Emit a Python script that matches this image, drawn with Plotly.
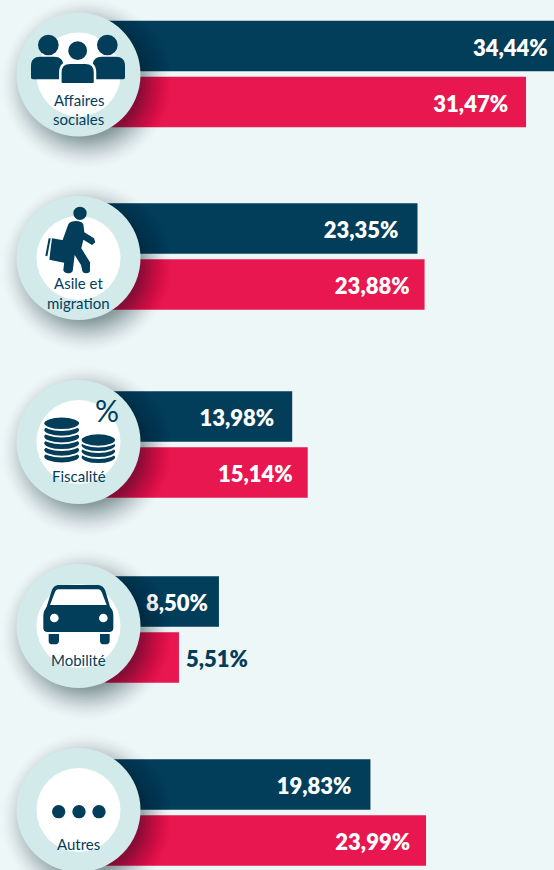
import re
import plotly.graph_objects as go

# ---------- data ----------
themes = ["Affaires sociales", "Asile et migration", "Fiscalité", "Mobilité", "Autres"]
series_navy = [34.44, 23.35, 13.98, 8.50, 19.83]
series_red = [31.47, 23.88, 15.14, 5.51, 23.99]
labels_navy = ["34,44%", "23,35%", "13,98%", "8,50%", "19,83%"]
labels_red = ["31,47%", "23,88%", "15,14%", "5,51%", "23,99%"]
outside_threshold = 6

# ---------- layout constants ----------
W, H = 554, 870
NAVY, RED, BG, RING = "#023e5a", "#e8174f", "#eef7f8", "#d3eaea"
FONT = "Lato"
rows_navy = [46, 228.5, 416.5, 601.5, 784.5]
rows_red = [102, 284.5, 472.5, 657.5, 840.5]
insets_navy = [18, 19, 18, 11, 19]
insets_red = [18, 15, 15, -7, 16]
LABEL_DY = 4
circle_y = [74.5, 258, 442, 626, 810]
CX, R, R_IN = 78.5, 62, 42
PX_PER_UNIT = 13.37
ZERO_PX = 105.3


def pt(x, y):
    return x / W, 1 - y / H


def zpath(d, oy):
    """Path given in 3x zoom coordinates with crop origin oy -> paper coords."""
    toks = re.findall(r"[MLCQZ]|-?\d+\.?\d*", d)
    out, nums = [], []
    for t in toks:
        if t.isalpha():
            out.append(t)
        else:
            nums.append(float(t))
            if len(nums) == 2:
                x, y = pt(nums[0] / 3, oy + nums[1] / 3)
                out.append(f"{x:.5f},{y:.5f}")
                nums = []
    return " ".join(out)


shapes = []


def circ(cx, cy, rx, ry=None, fill=NAVY, line=None, lw=0):
    ry = rx if ry is None else ry
    x0, y1 = pt(cx - rx, cy - ry)
    x1, y0 = pt(cx + rx, cy + ry)
    shapes.append(dict(type="circle", xref="paper", yref="paper", x0=x0, x1=x1, y0=y0, y1=y1,
                       fillcolor=fill, line=dict(color=line or fill, width=lw), layer="above"))


def zcirc(cx, cy, r, oy, **kw):
    circ(cx / 3, oy + cy / 3, r / 3, **kw)


def zell(cx, cy, rx, ry, oy, **kw):
    circ(cx / 3, oy + cy / 3, rx / 3, ry / 3, **kw)


def zp(d, oy, fill=NAVY, line=None, lw=0):
    shapes.append(dict(type="path", xref="paper", yref="paper", path=zpath(d, oy),
                       fillcolor=fill, line=dict(color=line or "rgba(0,0,0,0)", width=lw), layer="above"))


def body(x0, x1, top, bot, oy, **kw):
    w = x1 - x0
    r = w * 0.28
    zp(f"M{x0},{bot-6} L{x0},{top+r} C{x0},{top+r*0.3} {x0+r*0.4},{top} {x0+r},{top} "
       f"L{x1-r},{top} C{x1-r*0.4},{top} {x1},{top+r*0.3} {x1},{top+r} L{x1},{bot-6} "
       f"C{x1},{bot-2} {x1-2},{bot} {x1-6},{bot} L{x0+6},{bot} C{x0+2},{bot} {x0},{bot-2} {x0},{bot-6} Z",
       oy, **kw)


# shadows + discs
for cy in circle_y:
    steps = 24
    for i in range(steps):
        r = R + 24 - i * 1.4
        a = 0.003 + 0.0015 * i
        circ(CX + 8, cy + 9, r, fill=f"rgba(15,30,40,{a:.4f})")
    circ(CX, cy, R, fill=RING)
    circ(CX, cy, R_IN, fill="#ffffff")

# icon 1: people
oy = 0
body(93, 190, 170, 238, oy)
body(278, 375, 170, 238, oy)
zcirc(145, 135, 31, oy)
zcirc(322, 135, 31, oy)
zcirc(233, 152, 32, oy, line="#ffffff", lw=2.5)
body(181, 285, 188, 253, oy, line="#ffffff", lw=2.5)

# icon 2: walker with suitcase
oy = 185
zcirc(240, 85, 20, oy)
zp("M205,118 C212,106 242,104 250,118 L253,142 L282,160 L286,172 L276,180 L250,164 L244,190 "
   "L270,232 L270,258 C268,267 250,267 247,258 L243,240 L224,210 L218,258 C214,268 192,267 190,256 "
   "L196,200 L186,170 Z", oy)
zp("M156,160 L224,172 L214,238 L148,224 Z", oy)
zp("M146,160 L152,160 L142,214 L136,212 Z", oy)

# icon 3: coins
oy = 375
for cy in [245, 225, 205, 185, 165, 145]:
    zell(185, cy, 55, 20, oy, line="#ffffff", lw=1.8)
for cy in [247, 229, 211, 195]:
    zell(295, cy, 53, 20, oy, line="#ffffff", lw=1.8)

# icon 4: car
oy = 560
zp("M178,75 L292,75 C305,75 312,82 316,92 L330,140 C338,150 340,155 340,170 L340,205 C340,212 335,216 328,216 "
   "L142,216 C135,216 130,212 130,205 L130,170 C130,155 134,150 140,140 L155,92 C159,82 165,75 178,75 Z", oy)
zp("M176,88 L294,88 C300,88 303,92 305,96 L320,135 L150,135 L165,96 C167,92 170,88 176,88 Z", oy, fill="#ffffff")
zcirc(163, 174, 13, oy, fill="#ffffff")
zcirc(310, 174, 13, oy, fill="#ffffff")
zp("M146,222 L177,222 L177,242 C177,250 172,253 165,253 L158,253 C150,253 146,250 146,242 Z", oy)
zp("M300,222 L329,222 L329,242 C329,250 324,253 318,253 L311,253 C304,253 300,250 300,242 Z", oy)

# icon 5: dots
oy = 735
for cx in [176, 237, 297]:
    zcirc(cx, 230, 20, oy)

# ---------- figure ----------
x_range = [-ZERO_PX / PX_PER_UNIT, (W - ZERO_PX) / PX_PER_UNIT]
fig = go.Figure()
fig.add_bar(y=rows_navy, x=series_navy, orientation="h", width=50.6, marker=dict(color=NAVY, line_width=0),
            name="navy", hoverinfo="skip")
fig.add_bar(y=rows_red, x=series_red, orientation="h", width=50.6, marker=dict(color=RED, line_width=0),
            name="red", hoverinfo="skip")


def label_trace(values, rows, labels, insets):
    xs, pos, cols = [], [], []
    for v, inset in zip(values, insets):
        xs.append(v - inset / PX_PER_UNIT)
        if v < outside_threshold:
            pos.append("middle right"); cols.append(NAVY)
        else:
            pos.append("middle left"); cols.append("#ffffff")
    fig.add_scatter(x=xs, y=[r + LABEL_DY for r in rows], mode="text", text=labels, textposition=pos,
                    cliponaxis=False,
                    textfont=dict(family=FONT, size=22, color=cols, weight=800), hoverinfo="skip", showlegend=False)


label_trace(series_navy, rows_navy, labels_navy, insets_navy)
label_trace(series_red, rows_red, labels_red, insets_red)

annotations = []


def note(text, y, x=CX, size=15, font=FONT):
    xp, yp = pt(x, y)
    annotations.append(dict(text=text, x=xp, y=yp, xref="paper", yref="paper", showarrow=False,
                            xanchor="center", yanchor="middle",
                            font=dict(family=font, size=size, color=NAVY)))


note("Affaires", 100); note("sociales", 119)
note("Asile et", 283); note("migration", 303)
note(themes[2], 476); note(themes[3], 660); note(themes[4], 844)
note("%", 410, x=107, size=30)

fig.update_layout(
    width=W, height=H, autosize=False, margin=dict(l=0, r=0, t=0, b=0),
    paper_bgcolor=BG, plot_bgcolor=BG, barmode="overlay", showlegend=False,
    xaxis=dict(range=x_range, visible=False, fixedrange=True),
    yaxis=dict(range=[H, 0], visible=False, fixedrange=True),
    shapes=shapes, annotations=annotations,
)
fig.write_html("out.html", config=dict(displayModeBar=False),
               post_script="document.body.style.margin='0';document.body.style.background='%s';" % BG)
